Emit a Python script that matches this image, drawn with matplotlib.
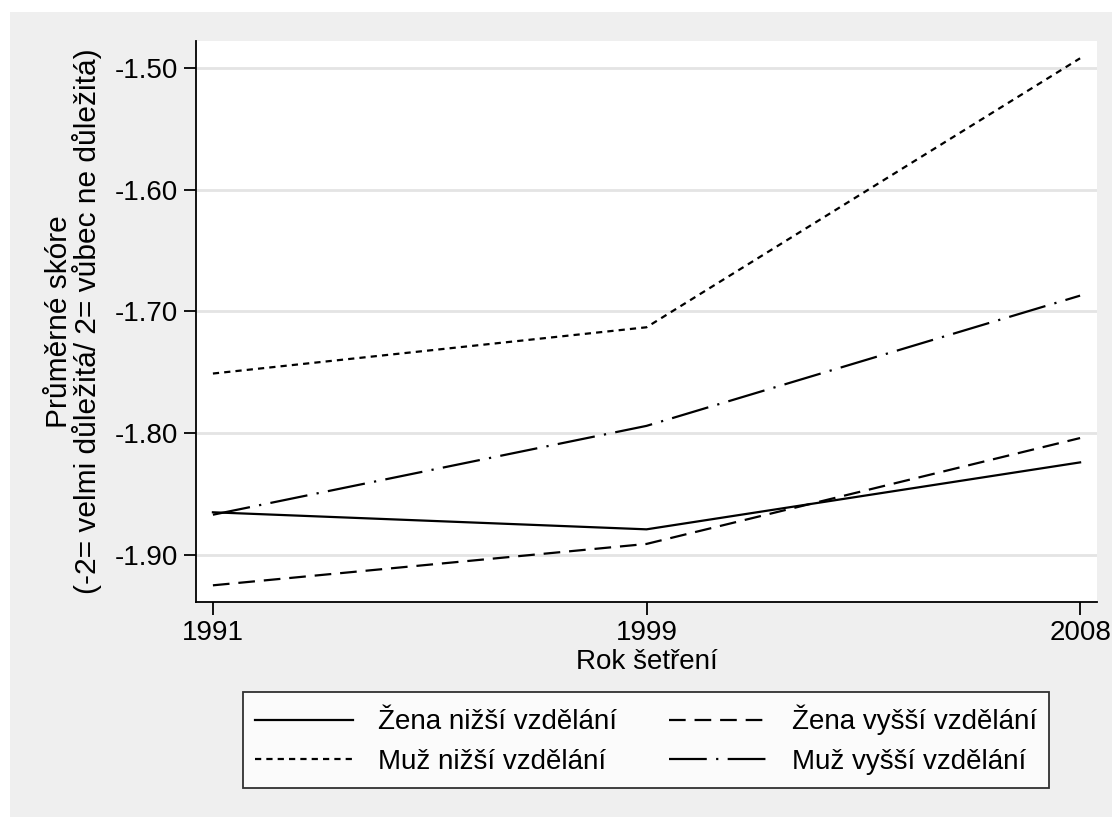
import matplotlib.pyplot as plt
from matplotlib.patches import Rectangle

years = ["1991", "1999", "2008"]
zena_nizsi = [-1.865, -1.879, -1.824]
zena_vyssi = [-1.925, -1.891, -1.804]
muz_nizsi = [-1.751, -1.713, -1.492]
muz_vyssi = [-1.867, -1.794, -1.687]
yticks = [-1.50, -1.60, -1.70, -1.80, -1.90]

plt.rcParams['font.family'] = ['Liberation Sans', 'DejaVu Sans']

fig = plt.figure(figsize=(11.12, 8.17), dpi=100, facecolor='white')
# gray graph region
fig.patches.append(Rectangle((10 / 1112, 0), 1 - 10 / 1112, 1 - 12 / 817,
                             transform=fig.transFigure, facecolor='#efefef',
                             edgecolor='none', zorder=-10))

ax = fig.add_axes([196 / 1112, 1 - 602 / 817, (1097 - 196) / 1112, (602 - 41) / 817])
ax.set_facecolor('white')

x = range(len(years))
lw = 1.6
ax.plot(x, zena_nizsi, color='black', lw=lw, linestyle='-', label='Žena nižší vzdělání')
ax.plot(x, zena_vyssi, color='black', lw=lw, linestyle=(0, (7.5, 4)), label='Žena vyšší vzdělání')
ax.plot(x, muz_nizsi, color='black', lw=lw, linestyle=(0, (2.8, 2.3)), label='Muž nižší vzdělání')
ax.plot(x, muz_vyssi, color='black', lw=lw, linestyle=(0, (17, 4.2, 1, 4.2)), label='Muž vyšší vzdělání')

ax.set_xlim(-0.039, 2.039)
ax.set_ylim(-1.9387, -1.4778)
ax.set_xticks(list(x))
ax.set_xticklabels(years)
ax.set_yticks(yticks)
ax.set_yticklabels([f"{v:.2f}" for v in yticks])
ax.yaxis.grid(True, color='#e4e4e4', lw=2)
ax.set_axisbelow(True)

for s in ['top', 'right']:
    ax.spines[s].set_visible(False)
for s in ['left', 'bottom']:
    ax.spines[s].set_linewidth(1.3)
ax.tick_params(axis='both', labelsize=20, length=9, width=1.3, colors='black', pad=4)
ax.tick_params(axis='x', pad=4)

ax.set_xlabel('Rok šetření', fontsize=20, labelpad=2)
ax.set_ylabel('Průměrné skóre\n(-2= velmi důležitá/ 2= vůbec ne důležitá)', fontsize=21.5,
              labelpad=9, linespacing=0.95)

handles, labels = ax.get_legend_handles_labels()
order = [0, 2, 1, 3]
leg = fig.legend([handles[i] for i in order], [labels[i] for i in order],
                 ncol=2, loc='center', bbox_to_anchor=(646 / 1112, 1 - 740 / 817),
                 fontsize=20, frameon=True, fancybox=False, edgecolor='black',
                 handlelength=3.5, columnspacing=1.9, handletextpad=0.9,
                 borderpad=0.45, labelspacing=0.5, borderaxespad=0)
leg.get_frame().set_linewidth(1.3)

fig.savefig('out.png', dpi=100)
